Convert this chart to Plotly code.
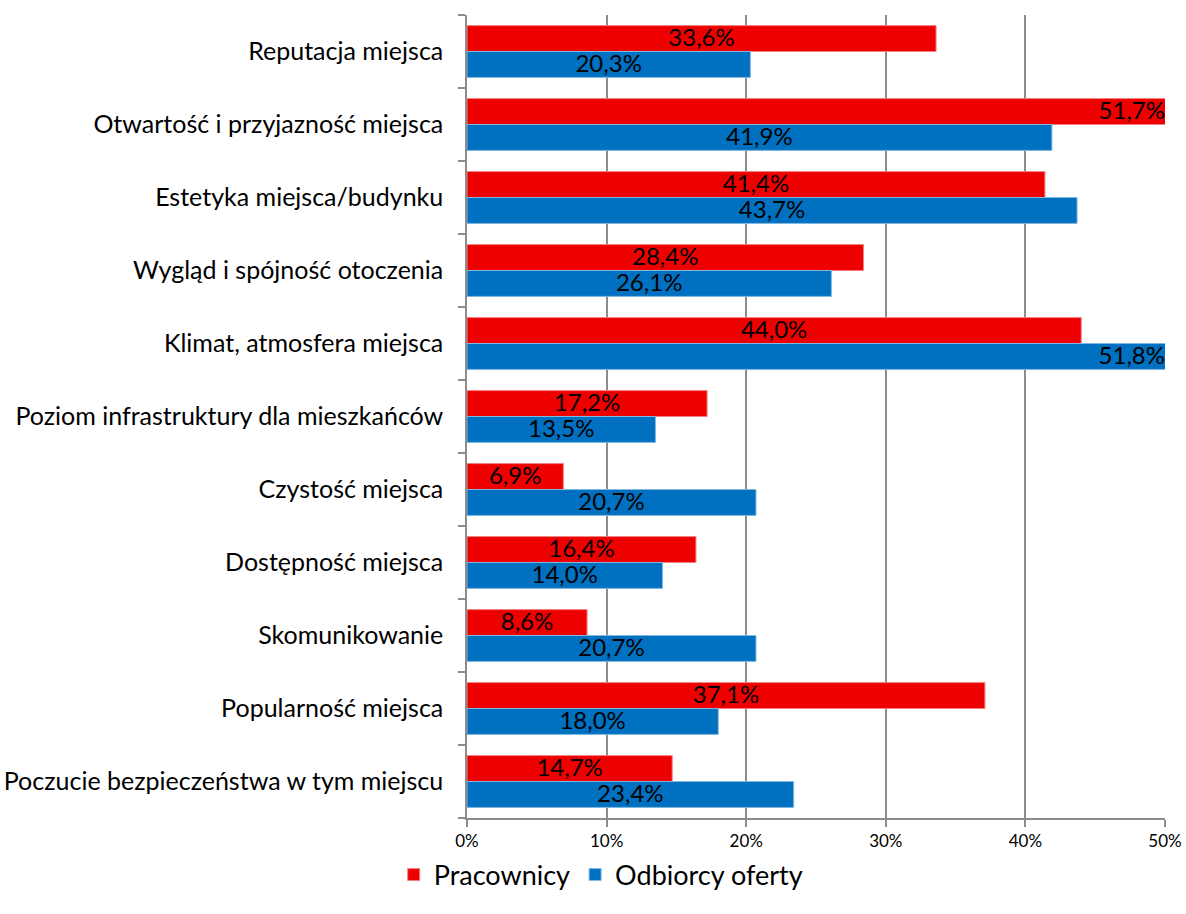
import plotly.graph_objects as go

categories = [
    "Reputacja miejsca",
    "Otwartość i przyjazność miejsca",
    "Estetyka miejsca/budynku",
    "Wygląd i spójność otoczenia",
    "Klimat, atmosfera miejsca",
    "Poziom infrastruktury dla mieszkańców",
    "Czystość miejsca",
    "Dostępność miejsca",
    "Skomunikowanie",
    "Popularność miejsca",
    "Poczucie bezpieczeństwa w tym miejscu",
]
pracownicy = [33.6, 51.7, 41.4, 28.4, 44.0, 17.2, 6.9, 16.4, 8.6, 37.1, 14.7]
odbiorcy = [20.3, 41.9, 43.7, 26.1, 51.8, 13.5, 20.7, 14.0, 20.7, 18.0, 23.4]
x_ticks = [0, 10, 20, 30, 40, 50]
x_tick_labels = ["0%", "10%", "20%", "30%", "40%", "50%"]

XMAX = 50
BARGAP = 0.29
FONT = "Lato"
RED = "#EE0000"
BLUE = "#0070C0"
GRID = "#8C8C8C"

idx = list(range(len(categories)))
half = (1 - BARGAP) / 4  # offset of each bar center within its group

fig = go.Figure()
fig.add_trace(go.Bar(name="Pracownicy", y=idx, x=pracownicy, orientation="h",
                     marker=dict(color=RED, line=dict(color="#F58080", width=1))))
fig.add_trace(go.Bar(name="Odbiorcy oferty", y=idx, x=odbiorcy, orientation="h",
                     marker=dict(color=BLUE, line=dict(color="#80B8E0", width=1))))


def lab(v):
    return f"{v:.1f}".replace(".", ",") + "%"


# value labels: centred in bar; right-aligned at axis end when bar is clipped
for vals, sign in [(pracownicy, -1), (odbiorcy, 1)]:
    xs, pos = [], []
    for v in vals:
        if v > XMAX:
            xs.append(XMAX)
            pos.append("middle left")
        else:
            xs.append(v / 2)
            pos.append("middle center")
    fig.add_trace(go.Scatter(y=[i + sign * half + 0.02 for i in idx], x=xs, mode="text",
                             text=[lab(v) for v in vals], textposition=pos,
                             textfont=dict(family=FONT, size=24, color="black"),
                             showlegend=False, hoverinfo="skip", cliponaxis=False))

fig.update_layout(
    width=1186, height=914,
    margin=dict(l=467, r=21, t=15, b=96, autoexpand=False),
    plot_bgcolor="white", paper_bgcolor="white",
    barmode="group", bargap=BARGAP, bargroupgap=0,
    font=dict(family=FONT, size=25, color="black"),
    xaxis=dict(range=[0, XMAX], tickvals=x_ticks, ticktext=x_tick_labels,
               showgrid=True, gridcolor=GRID, gridwidth=1.5,
               showline=True, linecolor=GRID, linewidth=1.5,
               ticks="outside", ticklen=7, tickcolor=GRID, tickwidth=1.5,
               tickfont=dict(size=17), zeroline=False, fixedrange=True),
    yaxis=dict(range=[len(categories) - 0.5, -0.5], tickvals=idx, ticktext=categories,
               ticks="", showline=True, linecolor=GRID, linewidth=1.5,
               tickfont=dict(size=25), ticklabelstandoff=17, showgrid=False, zeroline=False,
               minor=dict(tickvals=[i - 0.5 for i in range(len(categories) + 1)],
                          ticks="outside", ticklen=7, tickcolor=GRID, tickwidth=1.5,
                          showgrid=False)),
    legend=dict(orientation="h", x=-0.105, y=-0.071, xanchor="left", yanchor="middle",
                font=dict(size=27), traceorder="normal"),
)
fig.write_html("out.html")
